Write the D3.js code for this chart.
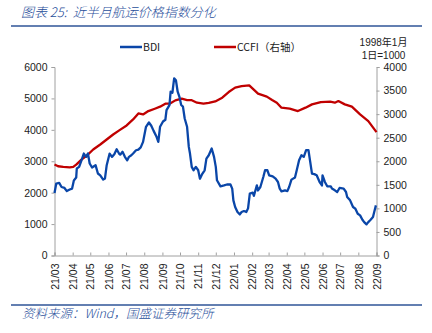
<!DOCTYPE html>
<html>
<head>
<meta charset="utf-8">
<script src="https://cdn.jsdelivr.net/npm/d3@7/dist/d3.min.js"></script>
<style>
  html, body { margin: 0; padding: 0; background: #fff; }
  svg { display: block; }
  .tick text { font-family: "Liberation Sans", Arial, sans-serif; font-size: 10.5px; fill: #222; }
</style>
</head>
<body>
<div id="chart"></div>
<script>
// BDI (left axis)
var bdiDates = ["2021-03-01","2021-03-04","2021-03-09","2021-03-13","2021-03-18","2021-03-22","2021-03-27","2021-03-31",
  "2021-04-03","2021-04-07","2021-04-08","2021-04-12","2021-04-16","2021-04-20","2021-04-24","2021-04-27","2021-04-30",
  "2021-05-04","2021-05-10","2021-05-14","2021-05-18","2021-05-23","2021-05-26","2021-05-29",
  "2021-06-03","2021-06-07","2021-06-11","2021-06-15","2021-06-19","2021-06-21","2021-06-25","2021-06-29",
  "2021-07-03","2021-07-06","2021-07-10","2021-07-13","2021-07-18","2021-07-22","2021-07-26","2021-07-30",
  "2021-08-04","2021-08-09","2021-08-13","2021-08-17","2021-08-22","2021-08-25","2021-08-28",
  "2021-09-02","2021-09-06","2021-09-08","2021-09-13","2021-09-15","2021-09-18","2021-09-21","2021-09-24","2021-09-27","2021-09-30",
  "2021-10-03","2021-10-06","2021-10-09","2021-10-13","2021-10-16","2021-10-18","2021-10-21","2021-10-24","2021-10-28",
  "2021-11-01","2021-11-04","2021-11-08","2021-11-12","2021-11-15","2021-11-19","2021-11-24","2021-11-28",
  "2021-12-01","2021-12-03","2021-12-09","2021-12-15","2021-12-20","2021-12-26","2021-12-29","2021-12-31",
  "2022-01-03","2022-01-07","2022-01-11","2022-01-14","2022-01-18","2022-01-22","2022-01-25","2022-01-28",
  "2022-02-02","2022-02-04","2022-02-09","2022-02-11","2022-02-15","2022-02-20","2022-02-23","2022-02-27",
  "2022-03-02","2022-03-08","2022-03-13","2022-03-17","2022-03-20","2022-03-23","2022-03-29",
  "2022-04-02","2022-04-05","2022-04-09","2022-04-15","2022-04-18","2022-04-22","2022-04-26","2022-04-30",
  "2022-05-04","2022-05-08","2022-05-11","2022-05-14","2022-05-18","2022-05-22","2022-05-27","2022-05-31",
  "2022-06-01","2022-06-05","2022-06-09","2022-06-15","2022-06-17","2022-06-22","2022-06-26","2022-06-30",
  "2022-07-07","2022-07-11","2022-07-13","2022-07-18","2022-07-23","2022-07-27","2022-07-31",
  "2022-08-04","2022-08-08","2022-08-11","2022-08-15","2022-08-18","2022-08-22","2022-08-26","2022-08-28","2022-08-31"];
var bdiValues = [1990,2290,2310,2180,2150,2050,2100,2130,
  2390,2480,2770,2820,3030,3245,3140,3245,2930,
  2800,2875,2610,2550,2415,2450,2875,
  3245,3140,3220,3380,3245,3210,3300,3140,
  3030,3140,3190,3245,3350,3370,3440,3617,
  4096,4234,4130,3967,3777,3617,4100,
  4266,4320,4628,4788,5213,5180,5640,5580,5213,5050,
  4790,4740,4362,4100,3457,3245,2820,2713,2820,
  2713,2446,2600,2713,3085,3192,3404,3138,
  2820,2394,2202,2230,2260,2260,2130,1755,
  1543,1383,1308,1383,1415,1383,1500,1969,
  2000,1900,2234,2070,2180,2500,2713,2713,
  2553,2520,2446,2340,2128,2043,2070,
  2050,2180,2415,2480,2713,3032,3192,3140,
  3351,3351,2979,2607,2590,2553,2340,2230,
  2553,2340,2202,2202,2130,2075,2021,2150,
  2130,2021,1862,1755,1543,1490,1330,
  1277,1138,1064,990,1064,1138,1224,1380,1596];

// CCFI (right axis)
var ccfiDates = ["2021-03-01","2021-03-07","2021-03-16","2021-03-27","2021-04-02","2021-04-07","2021-04-16","2021-04-25",
  "2021-05-06","2021-05-18","2021-05-29","2021-06-09","2021-06-20","2021-07-02","2021-07-13","2021-07-22","2021-07-30",
  "2021-08-08","2021-08-19","2021-08-28","2021-09-06","2021-09-14","2021-09-23","2021-10-04","2021-10-13","2021-10-21",
  "2021-10-30","2021-11-10","2021-11-19","2021-11-30","2021-12-12","2021-12-23","2022-01-03","2022-01-14","2022-01-27",
  "2022-02-11","2022-02-26","2022-03-07","2022-03-15","2022-03-23","2022-04-06","2022-04-20","2022-05-03","2022-05-14",
  "2022-05-29","2022-06-14","2022-06-22","2022-06-28","2022-07-09","2022-07-21","2022-08-04","2022-08-18","2022-09-01"];
var ccfiValues = [1930,1894,1880,1870,1880,1930,2036,2121,
  2249,2356,2462,2568,2660,2760,2888,3015,2994,
  3065,3115,3158,3222,3225,3292,3328,3299,3295,
  3243,3222,3240,3270,3349,3469,3562,3596,3611,
  3435,3371,3299,3243,3137,3115,3065,3137,3207,
  3256,3264,3243,3277,3207,3158,2994,2852,2618];

var leftTicks = [0,1000,2000,3000,4000,5000,6000];
var rightTicks = [0,500,1000,1500,2000,2500,3000,3500,4000];
var monthTicks = ["2021-03-01","2021-04-01","2021-05-01","2021-06-01","2021-07-01","2021-08-01","2021-09-01",
  "2021-10-01","2021-11-01","2021-12-01","2022-01-01","2022-02-01","2022-03-01","2022-04-01","2022-05-01",
  "2022-06-01","2022-07-01","2022-08-01","2022-09-01"];

var W = 432, H = 333;
var cjk = '"Noto Sans CJK SC", "Liberation Sans", sans-serif';
var latinFirst = '"Liberation Sans", "Noto Sans CJK SC", sans-serif';
var blueText = "#1f4e9a";
var bdiColor = "#0a46a8";
var ccfiColor = "#c00000";
var axisColor = "#a0a0a0";

var parse = d3.timeParse("%Y-%m-%d");
var bdi = bdiDates.map(function(d, i) { return { date: parse(d), value: bdiValues[i] }; });
var ccfi = ccfiDates.map(function(d, i) { return { date: parse(d), value: ccfiValues[i] }; });
var months = monthTicks.map(parse);

var plot = { left: 54.5, right: 376.5, top: 67, bottom: 255.5 };

var x = d3.scaleTime()
  .domain([months[0], months[months.length - 1]])
  .range([plot.left, plot.right]);
var yL = d3.scaleLinear().domain([0, 6000]).range([plot.bottom, plot.top]);
var yR = d3.scaleLinear().domain([0, 4000]).range([plot.bottom, plot.top]);

var svg = d3.select('#chart').append('svg')
  .attr('width', W)
  .attr('height', H);

// header
svg.append('text')
  .attr('x', 21).attr('y', 17)
  .attr('font-family', cjk).attr('font-size', 13).attr('font-style', 'italic').attr('font-weight', 300)
  .attr('fill', blueText)
  .attr('xml:space', 'preserve')
  .text('图表 25:  近半月航运价格指数分化');
svg.append('line')
  .attr('x1', 11).attr('x2', 422).attr('y1', 26).attr('y2', 26)
  .attr('stroke', '#2f5597').attr('stroke-width', 1.5);

// footer
svg.append('line')
  .attr('x1', 11).attr('x2', 422).attr('y1', 305).attr('y2', 305)
  .attr('stroke', '#2f5597').attr('stroke-width', 1.5);
svg.append('text')
  .attr('x', 22).attr('y', 318)
  .attr('font-family', cjk).attr('font-size', 12.5).attr('font-style', 'italic').attr('font-weight', 300)
  .attr('fill', blueText)
  .text('资料来源：Wind，国盛证券研究所');

// legend
var legend = [
  { label: 'BDI', color: bdiColor, x: 120 },
  { label: 'CCFI（右轴）', color: ccfiColor, x: 214 }
];
legend.forEach(function(l) {
  svg.append('line')
    .attr('x1', l.x).attr('x2', l.x + 22).attr('y1', 47).attr('y2', 47)
    .attr('stroke', l.color).attr('stroke-width', 2.5);
  svg.append('text')
    .attr('x', l.x + 23).attr('y', 51)
    .attr('font-family', cjk).attr('font-size', 10.5).attr('fill', '#222')
    .text(l.label);
});

// base-period note above the right axis
svg.append('text')
  .attr('x', 383.5).attr('y', 46).attr('text-anchor', 'middle')
  .attr('font-family', latinFirst).attr('font-size', 10).attr('fill', '#222')
  .text('1998年1月');
svg.append('text')
  .attr('x', 383.5).attr('y', 58.5).attr('text-anchor', 'middle')
  .attr('font-family', latinFirst).attr('font-size', 10).attr('fill', '#222')
  .text('1日=1000');

// axes
var gL = svg.append('g')
  .attr('transform', 'translate(' + plot.left + ',0)')
  .call(d3.axisLeft(yL).tickValues(leftTicks).tickSize(3).tickPadding(4).tickFormat(d3.format('d')));
var gR = svg.append('g')
  .attr('transform', 'translate(' + plot.right + ',0)')
  .call(d3.axisRight(yR).tickValues(rightTicks).tickSize(3).tickPadding(4).tickFormat(d3.format('d')));
var gX = svg.append('g')
  .attr('transform', 'translate(0,' + plot.bottom + ')')
  .call(d3.axisTop(x).tickValues(months).tickSize(3).tickFormat(d3.timeFormat('%y/%m')));

[gL, gR, gX].forEach(function(g) {
  g.select('.domain').attr('stroke', axisColor);
  g.selectAll('.tick line').attr('stroke', axisColor);
});

// month labels sit below the axis, rotated to read upward
gX.selectAll('.tick text')
  .attr('transform', 'translate(0,8) rotate(-90)')
  .attr('x', 0).attr('y', 0).attr('dy', '0.35em')
  .attr('text-anchor', 'end');

// series
var lineL = d3.line()
  .x(function(d) { return x(d.date); })
  .y(function(d) { return yL(d.value); });
var lineR = d3.line()
  .x(function(d) { return x(d.date); })
  .y(function(d) { return yR(d.value); });

svg.append('path')
  .datum(ccfi)
  .attr('d', lineR)
  .attr('fill', 'none')
  .attr('stroke', ccfiColor)
  .attr('stroke-width', 2.3)
  .attr('stroke-linejoin', 'round');

svg.append('path')
  .datum(bdi)
  .attr('d', lineL)
  .attr('fill', 'none')
  .attr('stroke', bdiColor)
  .attr('stroke-width', 2.3)
  .attr('stroke-linejoin', 'round');
</script>
</body>
</html>
